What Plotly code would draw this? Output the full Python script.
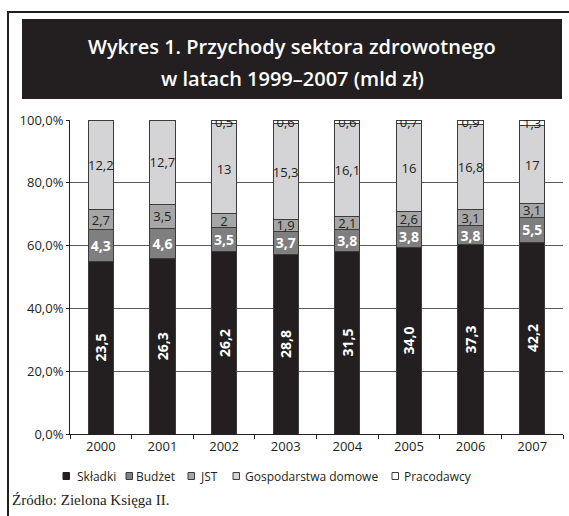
import plotly.graph_objects as go

years = ["2000", "2001", "2002", "2003", "2004", "2005", "2006", "2007"]
skladki = [23.5, 26.3, 26.2, 28.8, 31.5, 34.0, 37.3, 42.2]
budzet = [4.3, 4.6, 3.5, 3.7, 3.8, 3.8, 3.8, 5.5]
jst = [2.7, 3.5, 2, 1.9, 2.1, 2.6, 3.1, 3.1]
gospodarstwa = [12.2, 12.7, 13, 15.3, 16.1, 16, 16.8, 17]
pracodawcy = [0, 0, 0.5, 0.6, 0.6, 0.7, 0.9, 1.3]
series_names = ["Składki", "Budżet", "JST", "Gospodarstwa domowe", "Pracodawcy"]
y_ticks = [0, 20, 40, 60, 80, 100]
y_tick_labels = ["0,0%", "20,0%", "40,0%", "60,0%", "80,0%", "100,0%"]

series_vals = [skladki, budzet, jst, gospodarstwa, pracodawcy]
colors = ["#231f20", "#7f7f7f", "#a6a6a6", "#d4d4d6", "#ffffff"]
dark_font = dict(color="#231f20", size=13, family="Open Sans")
white_bold = dict(color="white", size=14, family="Open Sans", weight="bold")
fonts = [white_bold, white_bold, dark_font, dark_font, dark_font]
angles = [-90, 0, 0, 0, 0]


def fmt(v, force_decimal):
    if v == 0:
        return ""
    if float(v).is_integer() and not force_decimal:
        return str(int(v))
    return ("%.1f" % v).replace(".", ",")


fig = go.Figure()
for i, name in enumerate(series_names):
    vals = series_vals[i]
    force = i < 2
    fig.add_trace(go.Bar(
        name=name, x=years, y=vals,
        marker=dict(color=colors[i], line=dict(color="#3c3c3c", width=1)),
        text=[fmt(v, force) for v in vals],
        textposition="inside", insidetextanchor="middle",
        constraintext="none", textangle=angles[i],
        insidetextfont=fonts[i],
        hoverinfo="skip", showlegend=False,
    ))

W, H = 569, 516
L, R, T, B = 70, 6, 120, 82
pw, ph = W - L - R, H - T - B


def px(x):
    return (x - L) / pw


def py(y):
    return (H - B - y) / ph


shapes = [
    dict(type="rect", xref="paper", yref="paper", x0=px(22), x1=px(562), y0=py(99), y1=py(19),
         fillcolor="#231f20", line=dict(width=0), layer="below"),
    dict(type="line", xref="paper", yref="paper", x0=px(7), x1=px(569), y0=py(12), y1=py(12),
         line=dict(color="#231f20", width=2)),
    dict(type="line", xref="paper", yref="paper", x0=px(8), x1=px(8), y0=py(12), y1=py(516),
         line=dict(color="#231f20", width=2)),
]

annotations = [
    dict(text="Wykres 1. Przychody sektora zdrowotnego", xref="paper", yref="paper",
         x=px(292), y=py(46), showarrow=False, xanchor="center", yanchor="middle",
         font=dict(family="Open Sans", size=20, color="white", weight=600)),
    dict(text="w latach 1999–2007 (mld zł)", xref="paper", yref="paper",
         x=px(292), y=py(78), showarrow=False, xanchor="center", yanchor="middle",
         font=dict(family="Open Sans", size=20, color="white", weight=600)),
    dict(text="Źródło: Zielona Księga II.", xref="paper", yref="paper",
         x=px(10), y=py(500), showarrow=False, xanchor="left", yanchor="middle",
         font=dict(family="Liberation Serif", size=15, color="#231f20")),
]

# legend: small squares + labels
legend_square_x = [63, 126, 188, 233, 392]
legend_text_x = [75, 134, 198, 243, 402]
ly = 476
for i, name in enumerate(series_names):
    sx = legend_square_x[i]
    shapes.append(dict(type="rect", xref="paper", yref="paper",
                       x0=px(sx), x1=px(sx + 6.5), y0=py(ly + 3.5), y1=py(ly - 3.5),
                       fillcolor=colors[i],
                       line=dict(color="#231f20" if i == 0 else "#3c3c3c", width=1)))
    annotations.append(dict(text=name, xref="paper", yref="paper",
                            x=px(legend_text_x[i]), y=py(ly), showarrow=False,
                            xanchor="left", yanchor="middle",
                            font=dict(family="Open Sans", size=12, color="#231f20")))

fig.update_layout(
    width=W, height=H,
    margin=dict(l=L, r=R, t=T, b=B, pad=0),
    barmode="stack", barnorm="percent", bargap=0.59,
    plot_bgcolor="white", paper_bgcolor="white",
    font=dict(family="Open Sans", size=13, color="#231f20"),
    shapes=shapes, annotations=annotations,
    showlegend=False,
    xaxis=dict(type="category", showline=True, linecolor="#231f20", linewidth=1,
               ticks="outside", tickson="boundaries", ticklen=4, tickcolor="#231f20",
               showgrid=False, tickfont=dict(size=13)),
    yaxis=dict(range=[0, 100], tickvals=y_ticks, ticktext=y_tick_labels,
               showline=True, linecolor="#231f20", linewidth=1,
               ticks="outside", ticklen=3, tickcolor="#231f20",
               showgrid=True, gridcolor="#5a5a5a", gridwidth=1,
               tickfont=dict(size=13), zeroline=False),
)

fig.write_html("out.html", config={"displayModeBar": False, "staticPlot": True},
               post_script="document.body.style.margin='0';document.body.style.overflow='hidden';")
